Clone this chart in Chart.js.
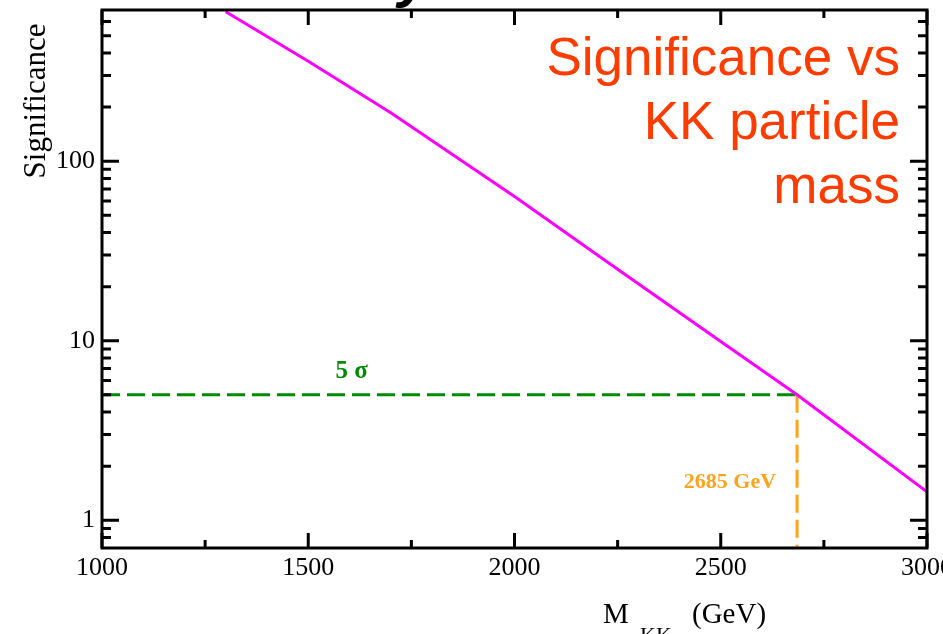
<!DOCTYPE html>
<html>
<head>
<meta charset="utf-8">
<script src="https://cdn.jsdelivr.net/npm/chart.js@4/dist/chart.umd.min.js"></script>
<style>
  body { margin: 0; background: #fff; }
  canvas { display: block; }
</style>
</head>
<body>
<canvas id="sigChart" width="943" height="634"></canvas>
<script>
// KK particle mass (GeV) and significance
const MASS = [1300, 1500, 1700, 2000, 2250, 2500, 2685, 3000];
const SIGNIF = [680, 360, 186, 63.5, 25, 9.9, 5.0, 1.44];

// 5 sigma reference and the crossing point
const SIGMA_LEVEL = 5;
const CROSS_MASS = 2685;

// axis ranges and labelled ticks
const X_MIN = 1000, X_MAX = 3000;
const Y_MIN = 0.713, Y_MAX = 695;
const X_LABELS = [1000, 1500, 2000, 2500, 3000];
const Y_LABELS = [1, 10, 100];

const serif = '"Liberation Serif", "DejaVu Serif", serif';
const sans = '"Liberation Sans", Arial, sans-serif';

// frame, inward ticks on all four sides and text annotations
const framePlugin = {
    id: 'frame',
    afterDraw(chart) {
        const ctx = chart.ctx;
        const a = chart.chartArea;
        const xs = chart.scales.x;
        const ys = chart.scales.y;
        ctx.save();
        ctx.strokeStyle = '#000';
        ctx.lineWidth = 3;
        ctx.strokeRect(a.left, a.top, a.right - a.left, a.bottom - a.top);

        ctx.beginPath();
        for (let v = X_MIN; v <= X_MAX; v += 250) {
            const px = xs.getPixelForValue(v);
            const len = v % 500 === 0 ? 15 : 8;
            ctx.moveTo(px, a.bottom); ctx.lineTo(px, a.bottom - len);
            ctx.moveTo(px, a.top); ctx.lineTo(px, a.top + len);
        }
        for (let d = 0.1; d < 1000; d *= 10) {
            for (let m = 1; m <= 9; m++) {
                const v = m * d;
                if (v < Y_MIN || v > Y_MAX) continue;
                const py = ys.getPixelForValue(v);
                const len = m === 1 ? 17 : 9;
                ctx.moveTo(a.left, py); ctx.lineTo(a.left + len, py);
                ctx.moveTo(a.right, py); ctx.lineTo(a.right - len, py);
            }
        }
        ctx.stroke();

        // annotations
        const yLevel = ys.getPixelForValue(SIGMA_LEVEL);
        ctx.fillStyle = '#008a00';
        ctx.font = 'bold 25px ' + serif;
        ctx.textAlign = 'center';
        ctx.textBaseline = 'alphabetic';
        ctx.fillText('5 σ', xs.getPixelForValue(1605), yLevel - 17);

        ctx.fillStyle = '#ffa31a';
        ctx.font = 'bold 22px ' + serif;
        ctx.textAlign = 'right';
        ctx.fillText('2685 GeV', xs.getPixelForValue(CROSS_MASS) - 21, a.bottom - 60);

        // title
        ctx.fillStyle = '#ff3c00';
        ctx.font = '53px ' + sans;
        ctx.textAlign = 'right';
        ctx.fillText('Significance vs', 900, 75);
        ctx.fillText('KK particle', 900, 139);
        ctx.fillText('mass', 900, 203);

        // axis titles
        ctx.fillStyle = '#000';
        ctx.save();
        ctx.translate(45, 101);
        ctx.rotate(-Math.PI / 2);
        ctx.font = '31px ' + serif;
        ctx.textAlign = 'center';
        ctx.fillText('Significance', 0, 0);
        ctx.restore();

        ctx.textAlign = 'left';
        ctx.font = '29px ' + serif;
        ctx.fillText('M', 603, 623);
        ctx.font = '22px ' + serif;
        ctx.fillText('KK', 640, 642);
        ctx.font = '29px ' + serif;
        ctx.fillText('(GeV)', 692, 623);

        // clipped letter from the slide heading above
        ctx.font = 'bold italic 58px ' + sans;
        ctx.fillText('y', 398, -4);
        ctx.restore();
    }
};

const ctx = document.getElementById('sigChart').getContext('2d');
new Chart(ctx, {
    type: 'line',
    data: {
        datasets: [
            {
                label: 'Significance',
                data: MASS.map((m, i) => ({ x: m, y: SIGNIF[i] })),
                borderColor: '#ff00ff',
                borderWidth: 3,
                pointRadius: 0,
                tension: 0
            },
            {
                label: '5 sigma',
                data: [{ x: X_MIN, y: SIGMA_LEVEL }, { x: CROSS_MASS, y: SIGMA_LEVEL }],
                borderColor: '#008a00',
                borderWidth: 3,
                borderDash: [18, 7],
                pointRadius: 0
            },
            {
                label: 'crossing',
                data: [{ x: CROSS_MASS, y: SIGMA_LEVEL }, { x: CROSS_MASS, y: Y_MIN }],
                borderColor: '#ffa31a',
                borderWidth: 3,
                borderDash: [18, 7],
                pointRadius: 0
            }
        ]
    },
    options: {
        responsive: false,
        animation: false,
        layout: { padding: { top: 10, right: 16, left: 0, bottom: 0 } },
        plugins: {
            legend: { display: false },
            tooltip: { enabled: false }
        },
        scales: {
            x: {
                type: 'linear',
                min: X_MIN,
                max: X_MAX,
                grid: { display: false, drawTicks: false },
                border: { display: false },
                afterBuildTicks: s => { s.ticks = X_LABELS.map(v => ({ value: v })); },
                ticks: {
                    color: '#000',
                    font: { family: serif, size: 26 },
                    padding: 5,
                    maxRotation: 0,
                    autoSkip: false,
                    callback: v => String(v)
                },
                afterFit: s => { s.height = 86; s.paddingLeft = 0; s.paddingRight = 0; }
            },
            y: {
                type: 'logarithmic',
                min: Y_MIN,
                max: Y_MAX,
                grid: { display: false, drawTicks: false },
                border: { display: false },
                afterBuildTicks: s => { s.ticks = Y_LABELS.map(v => ({ value: v })); },
                ticks: {
                    color: '#000',
                    font: { family: serif, size: 26 },
                    padding: 7,
                    autoSkip: false,
                    callback: v => String(v)
                },
                afterFit: s => { s.width = 102; s.paddingTop = 0; s.paddingBottom = 0; }
            }
        }
    },
    plugins: [framePlugin]
});
</script>
</body>
</html>
